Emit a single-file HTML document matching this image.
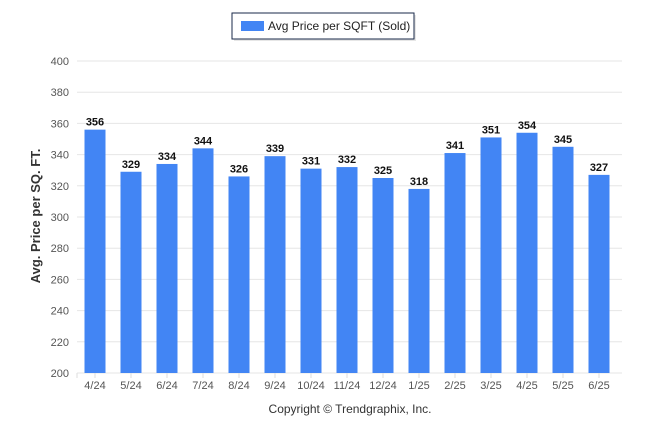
<!DOCTYPE html>
<html><head><meta charset="utf-8"><style>
body{margin:0;background:#fff;font-family:"Liberation Sans",Arial,sans-serif}
svg text{font-family:"Liberation Sans",Arial,sans-serif}
</style></head><body>
<svg id="c" width="646" height="434">
<g>
<rect x="234" y="15" width="182" height="26" fill="#e6e6e6"/>
<rect x="232" y="13" width="182" height="26" fill="#fff" stroke="#1a2a4a" stroke-width="1"/>
<rect x="241" y="21" width="23" height="10" fill="#4285f4"/>
<text x="268" y="30" font-size="12" fill="#222">Avg Price per SQFT (Sold)</text>
</g>
<text transform="translate(40,216) rotate(-90)" text-anchor="middle" font-size="13" font-weight="bold" fill="#333">Avg. Price per SQ. FT.</text>
<text x="350" y="413" text-anchor="middle" font-size="12" fill="#333">Copyright © Trendgraphix, Inc.</text>
<g id="grid"></g><g id="bars"></g>
</svg>
<script>
const categories=["4/24","5/24","6/24","7/24","8/24","9/24","10/24","11/24","12/24","1/25","2/25","3/25","4/25","5/25","6/25"];
const values=[356,329,334,344,326,339,331,332,325,318,341,351,354,345,327];
const yTicks=[200,220,240,260,280,300,320,340,360,380,400];
const NS="http://www.w3.org/2000/svg";
const x0=77,x1=622,yTop=61,yBot=373,yMin=200,yMax=400;
const band=(x1-x0-5)/categories.length;
const y=v=>yBot-(v-yMin)/(yMax-yMin)*(yBot-yTop);
const xc=i=>x0+band*(i+0.5);
const g=document.getElementById('grid'),b=document.getElementById('bars');
function mk(t,a,p){const e=document.createElementNS(NS,t);for(const k in a)e.setAttribute(k,a[k]);p.appendChild(e);return e;}
yTicks.forEach(t=>{
 const l=mk('line',{x1:x0,x2:x1,y1:y(t),y2:y(t),stroke:'#e6e6e6'},g);
 
 
 const tx=mk('text',{x:69,y:y(t)+4,'text-anchor':'end','font-size':'11',fill:'#555'},g);
 tx.textContent=t;
 
 
});
mk('line',{x1:x0,x2:x0,y1:yBot,y2:yBot+5,stroke:'#ddd'},g);
categories.forEach((c,i)=>{
 const v=values[i],w=21;
 const r=mk('rect',{x:xc(i)-w/2,y:y(v),width:w,height:yBot-y(v),fill:'#4285f4'},b);
 
 
 const vl=mk('text',{x:xc(i),y:y(v)-4,'text-anchor':'middle','font-size':'11','font-weight':'bold',fill:'#111'},b);
 vl.textContent=v;
 
 
 mk('line',{x1:xc(i),x2:xc(i),y1:yBot,y2:yBot+5,stroke:'#ddd'},g);
 const xl=mk('text',{x:xc(i),y:389,'text-anchor':'middle','font-size':'11',fill:'#555'},b);
 xl.textContent=c;
 
 
});
</script>
</body></html>
